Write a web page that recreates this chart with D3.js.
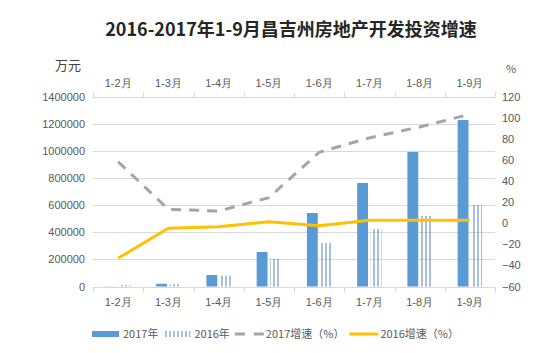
<!DOCTYPE html>
<html>
<head>
<meta charset="utf-8">
<title>2016-2017年1-9月昌吉州房地产开发投资增速</title>
<script src="https://cdn.jsdelivr.net/npm/d3@7"></script>
<style>
  body { margin: 0; background: #fff; }
  svg { font-family: "Noto Sans CJK SC", "Noto Sans", sans-serif; }
  .tick text { font-size: 11px; fill: #595959; }
  .grid line { stroke: #d9d9d9; stroke-width: 1; }
  .legend text { font-size: 11px; fill: #595959; }
</style>
</head>
<body>
<div id="chart"></div>
<script>
// data
const months = ["1-2月", "1-3月", "1-4月", "1-5月", "1-6月", "1-7月", "1-8月", "1-9月"];
const invest2017 = [1000, 20000, 85000, 255000, 543000, 765000, 994000, 1230000];
const invest2016 = [10000, 17000, 80000, 203000, 321000, 425000, 521000, 602000];
const growth2017 = [58.5, 13.3, 11.7, 24.4, 67.5, 81.2, 91.5, 103.6];
const growth2016 = [-33.2, -4.7, -3.2, 1.6, -2.2, 2.9, 2.9, 2.9];
const leftTicks = [0, 200000, 400000, 600000, 800000, 1000000, 1200000, 1400000];
const rightTicks = [-60, -40, -20, 0, 20, 40, 60, 80, 100, 120];

const W = 554, H = 353;
const plot = { left: 93, right: 495, top: 97, bottom: 286.5 };

const svg = d3.select("#chart").append("svg")
    .attr("width", W).attr("height", H);

// hatch for 2016 bars
svg.append("defs").append("pattern")
    .attr("id", "vlines")
    .attr("patternUnits", "userSpaceOnUse")
    .attr("width", 4).attr("height", 4)
  .append("rect")
    .attr("x", 1.5).attr("y", 0)
    .attr("width", 1).attr("height", 4)
    .attr("fill", "#5282b8");

const x = d3.scaleBand().domain(months).range([plot.left, plot.right]).padding(0);
const xSub = d3.scaleBand().domain(["2017", "2016"]).range([0, x.bandwidth()])
    .paddingInner(0.2).paddingOuter(0.95);
const yL = d3.scaleLinear().domain([0, 1400000]).range([plot.bottom, plot.top]);
const yR = d3.scaleLinear().domain([-60, 120]).range([plot.bottom, plot.top]);

// title
svg.append("text")
    .attr("x", 291).attr("y", 36)
    .attr("text-anchor", "middle")
    .style("font-size", "18px").style("font-weight", "bold")
    .style("fill", "#262626")
    .text("2016-2017年1-9月昌吉州房地产开发投资增速");

// units
svg.append("text").attr("x", 55).attr("y", 70)
    .style("font-size", "13px").style("fill", "#404040").text("万元");
svg.append("text").attr("x", 506).attr("y", 73)
    .style("font-size", "11px").style("fill", "#595959").text("%");

// gridlines
svg.append("g").attr("class", "grid")
  .selectAll("line").data(leftTicks).join("line")
    .attr("x1", plot.left).attr("x2", plot.right)
    .attr("y1", d => Math.round(yL(d)) + 0.5).attr("y2", d => Math.round(yL(d)) + 0.5);

// left axis
svg.append("g")
    .attr("transform", `translate(${plot.left},0)`)
    .call(d3.axisLeft(yL).tickValues(leftTicks).tickSize(0).tickPadding(8).tickFormat(d3.format("d")))
    .call(g => g.select(".domain").remove());

// right axis
svg.append("g")
    .attr("transform", `translate(${plot.right},0)`)
    .call(d3.axisRight(yR).tickValues(rightTicks).tickSize(0).tickPadding(7))
    .call(g => g.select(".domain").remove());

// bottom and top category axes
const axBottom = svg.append("g")
    .attr("transform", `translate(0,${plot.bottom})`)
    .call(d3.axisBottom(x).tickSize(0).tickPadding(12));
const axTop = svg.append("g")
    .attr("transform", `translate(0,${plot.top})`)
    .call(d3.axisTop(x).tickSize(0).tickPadding(10));
[axBottom, axTop].forEach(g => g.select(".domain").remove());

const bounds = months.map(m => x(m)).concat([plot.right]);
function catAxis(yPos, dir) {
  const g = svg.append("g");
  g.append("line")
      .attr("x1", plot.left).attr("x2", plot.right)
      .attr("y1", Math.round(yPos) + 0.5).attr("y2", Math.round(yPos) + 0.5)
      .attr("stroke", "#d9d9d9");
  g.selectAll("line.tk").data(bounds).join("line")
      .attr("class", "tk")
      .attr("x1", d => Math.round(d) + 0.5).attr("x2", d => Math.round(d) + 0.5)
      .attr("y1", Math.round(yPos) + 0.5).attr("y2", Math.round(yPos) + 0.5 + dir * 5)
      .attr("stroke", "#d9d9d9");
}
catAxis(plot.bottom, 1);
catAxis(plot.top, -1);

// bars
svg.append("g").selectAll("rect").data(months).join("rect")
    .attr("x", (d) => x(d) + xSub("2017"))
    .attr("width", xSub.bandwidth())
    .attr("y", (d, i) => yL(invest2017[i]))
    .attr("height", (d, i) => yL(0) - yL(invest2017[i]))
    .attr("fill", "#5b9bd5");

svg.append("g").selectAll("rect").data(months).join("rect")
    .attr("x", (d) => x(d) + xSub("2016"))
    .attr("width", xSub.bandwidth())
    .attr("y", (d, i) => yL(invest2016[i]))
    .attr("height", (d, i) => yL(0) - yL(invest2016[i]))
    .attr("fill", "url(#vlines)");

// lines
const cx = d => x(d) + x.bandwidth() / 2;
const growthLine = d3.line().x((d, i) => cx(months[i])).y(d => yR(d));

svg.append("path").datum(growth2017)
    .attr("d", growthLine)
    .attr("fill", "none")
    .attr("stroke", "#a5a5a5").attr("stroke-width", 3)
    .attr("stroke-dasharray", "10,8");

svg.append("path").datum(growth2016)
    .attr("d", growthLine)
    .attr("fill", "none")
    .attr("stroke", "#ffc000").attr("stroke-width", 3)
    .attr("stroke-linejoin", "round");

// legend
const legendItems = [
  { label: "2017年", type: "bar" },
  { label: "2016年", type: "hatch" },
  { label: "2017增速（%）", type: "dash" },
  { label: "2016增速（%）", type: "line" }
];
const legend = svg.append("g").attr("class", "legend");
let lx = 92;
const ly = 334;
legendItems.forEach(it => {
  if (it.type === "bar") {
    legend.append("rect").attr("x", lx).attr("y", ly - 3).attr("width", 27).attr("height", 6).attr("fill", "#5b9bd5");
  } else if (it.type === "hatch") {
    legend.append("rect").attr("x", lx).attr("y", ly - 3).attr("width", 27).attr("height", 6).attr("fill", "url(#vlines)");
  } else if (it.type === "dash") {
    legend.append("line").attr("x1", lx).attr("x2", lx + 29).attr("y1", ly).attr("y2", ly)
        .attr("stroke", "#a5a5a5").attr("stroke-width", 3).attr("stroke-dasharray", "10,9");
  } else {
    legend.append("line").attr("x1", lx).attr("x2", lx + 29).attr("y1", ly).attr("y2", ly)
        .attr("stroke", "#ffc000").attr("stroke-width", 3);
  }
  lx += 31;
  const t = legend.append("text").attr("x", lx).attr("y", ly + 4).text(it.label);
  lx += t.node().getComputedTextLength() + 5;
});
</script>
</body>
</html>
